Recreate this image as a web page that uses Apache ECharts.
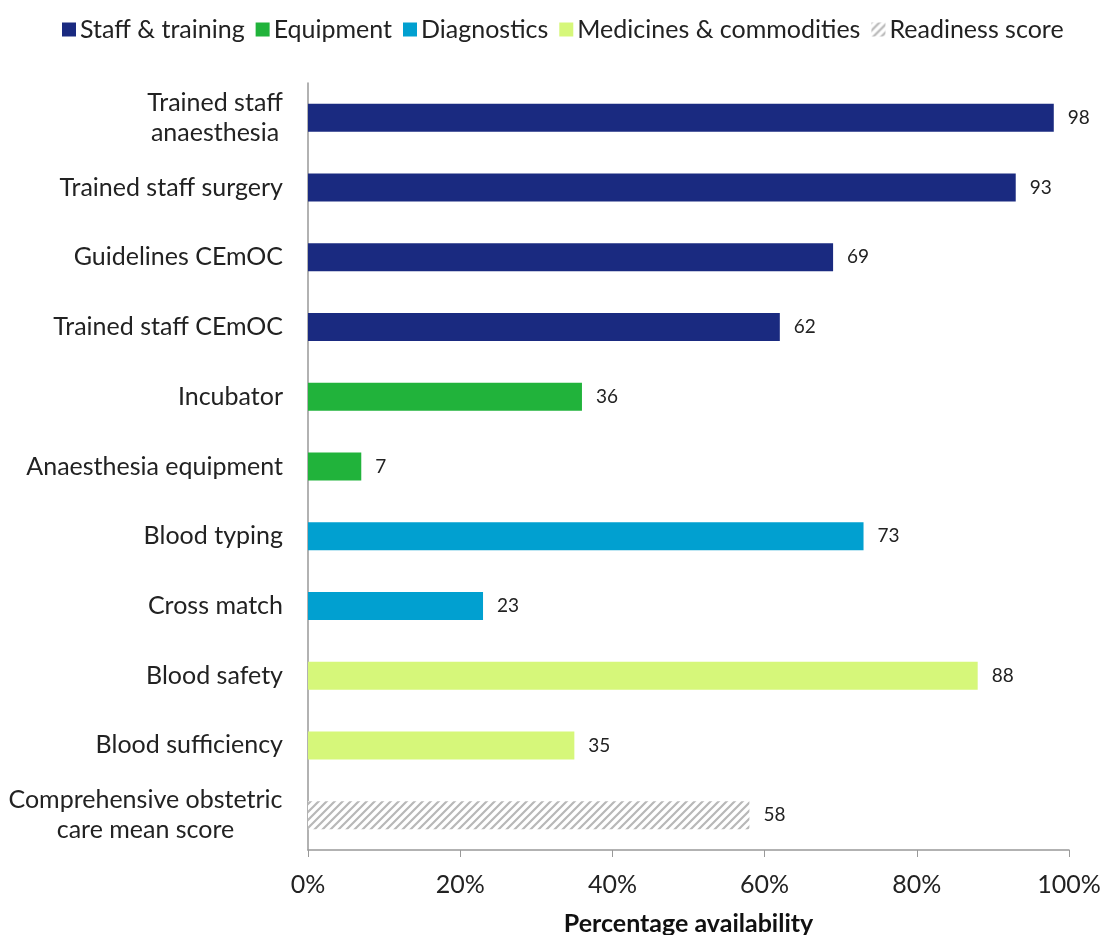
<!DOCTYPE html>
<html>
<head>
<meta charset="utf-8">
<script src="https://cdn.jsdelivr.net/npm/echarts@6/dist/echarts.min.js"></script>
<style>
  html, body { margin: 0; padding: 0; background: #fff; }
  #chart { width: 1101px; height: 935px; }
</style>
</head>
<body>
<div id="chart"></div>
<script>
// Categories, top to bottom
const categories = [
  'Trained staff\nanaesthesia',
  'Trained staff surgery',
  'Guidelines CEmOC',
  'Trained staff CEmOC',
  'Incubator',
  'Anaesthesia equipment',
  'Blood typing',
  'Cross match',
  'Blood safety',
  'Blood sufficiency',
  'Comprehensive obstetric\ncare mean score'
];

// Percentage availability per item
const values = [98, 93, 69, 62, 36, 7, 73, 23, 88, 35, 58];

// Group each category belongs to
const groupOf = [0, 0, 0, 0, 1, 1, 2, 2, 3, 3, 4];
const groupNames = ['Staff & training', 'Equipment', 'Diagnostics', 'Medicines & commodities', 'Readiness score'];

const FONT = 'Lato';
const CAT_SIZE = 25;

// Diagonal hatch used for the readiness score bar
function hatchPattern() {
  const c = document.createElement('canvas');
  const s = 8;
  c.width = s; c.height = s;
  const ctx = c.getContext('2d');
  ctx.fillStyle = '#ffffff';
  ctx.fillRect(0, 0, s, s);
  ctx.strokeStyle = '#b8b8b8';
  ctx.lineWidth = 2.2;
  ctx.beginPath();
  ctx.moveTo(-2, s + 2); ctx.lineTo(s + 2, -2);
  ctx.moveTo(-2, 2); ctx.lineTo(2, -2);
  ctx.moveTo(s - 2, s + 2); ctx.lineTo(s + 2, s - 2);
  ctx.stroke();
  return { image: c, repeat: 'repeat' };
}

// Width of the widest line of a multi-line label, so its lines can be centred
const measureCtx = document.createElement('canvas').getContext('2d');
measureCtx.font = CAT_SIZE + 'px ' + FONT;
function widestLine(text) {
  return Math.ceil(Math.max.apply(null, text.split('\n').map(t => measureCtx.measureText(t).width)));
}

const groupColors = ['#1a2a80', '#21b33b', '#01a0d0', '#d6f77a', hatchPattern()];

const series = groupNames.map((name, g) => ({
  name: name,
  type: 'bar',
  stack: 'one',
  barWidth: 28,
  data: values.map((v, i) => (groupOf[i] === g ? v : null)),
  itemStyle: { color: groupColors[g] },
  label: {
    show: true,
    position: 'right',
    distance: 14,
    color: '#222',
    fontSize: 19,
    fontFamily: FONT,
    formatter: p => (p.value == null ? '' : p.value)
  }
}));

const rich = {};
categories.forEach((c, i) => {
  if (c.indexOf('\n') >= 0) {
    rich['c' + i] = { width: widestLine(c), align: 'center', fontSize: CAT_SIZE, fontFamily: FONT, color: '#222', lineHeight: 30 };
  }
});

const chart = echarts.init(document.getElementById('chart'), null, { renderer: 'canvas' });
chart.setOption({
  animation: false,
  backgroundColor: '#fff',
  textStyle: { fontFamily: FONT },
  legend: {
    top: 12,
    left: 57,
    icon: 'rect',
    itemWidth: 14,
    itemHeight: 14,
    itemGap: 11,
    textStyle: { fontSize: 25, color: '#222', fontFamily: FONT, padding: [0, 0, 0, -1] },
    data: groupNames
  },
  grid: { left: 308, right: 32, top: 83, bottom: 85, outerBoundsMode: 'none', containLabel: false },
  xAxis: {
    type: 'value',
    min: 0,
    max: 100,
    interval: 20,
    axisLine: { show: true, lineStyle: { color: '#999', width: 1.5 } },
    axisTick: { show: true, length: 7, lineStyle: { color: '#999' } },
    splitLine: { show: false },
    axisLabel: { formatter: '{value}%', fontSize: 25, color: '#222', margin: 22, fontFamily: FONT },
    name: 'Percentage availability',
    nameLocation: 'middle',
    nameGap: 61,
    nameTextStyle: { fontSize: 25, fontWeight: 'bold', color: '#111', fontFamily: FONT }
  },
  yAxis: {
    type: 'category',
    inverse: true,
    data: categories,
    axisLine: { show: true, lineStyle: { color: '#999', width: 1.5 } },
    axisTick: { show: false },
    axisLabel: {
      fontSize: CAT_SIZE,
      fontFamily: FONT,
      color: '#222',
      margin: 25,
      lineHeight: 30,
      formatter: function (v) {
        if (v.indexOf('\n') < 0) return v;
        const key = 'c' + categories.indexOf(v);
        return v.split('\n').map(p => '{' + key + '|' + p + '}').join('\n');
      },
      rich: rich
    }
  },
  series: series
});
</script>
</body>
</html>
